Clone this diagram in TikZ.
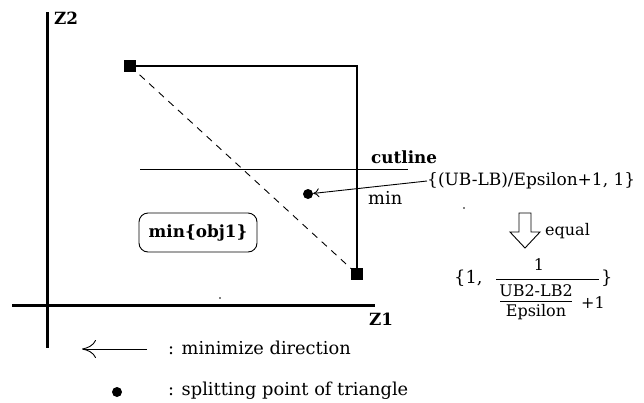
\documentclass[tikz,border=0pt]{standalone}
\usepackage{fontspec}
\setmainfont{DejaVu Serif}
\usetikzlibrary{arrows.meta}
\begin{document}
\begin{tikzpicture}[x=1pt,y=-1pt,
  axis/.style={line width=3pt},
  thinline/.style={line width=1.2pt},
  corner/.style={fill=black,minimum size=12pt,inner sep=0pt},
  txt/.style={inner sep=0pt,font=\fontsize{17.8}{20}\selectfont},
  btxt/.style={inner sep=0pt,font=\bfseries\fontsize{16.8}{19}\selectfont},
  ftxt/.style={inner sep=0pt,font=\fontsize{16}{18}\selectfont},
  splitdot/.style={circle,fill=black,minimum size=10pt,inner sep=0pt}]
\useasboundingbox (0,0) rectangle (644,402);
% axes
\coordinate (ytop) at (47,12);
\coordinate (ybot) at (47,348);
\coordinate (xl) at (12,305);
\coordinate (xr) at (375,305);
\draw[axis] (ytop) -- (ybot);
\draw[axis] (xl) -- (xr);
\node[btxt,anchor=west] (z2) at (54,18) {Z2};
\node[btxt,anchor=west] (z1) at (369,319) {Z1};
% corners
\node[corner] (p1) at (130,66) {};
\node[corner] (p2) at (357,274) {};
\coordinate (pc) at (357,66);
\draw[thinline] (p1.center) -- (pc) -- (p2.center);
\draw[dash pattern=on 7pt off 6pt,line width=0.9pt] (p1.center) -- (p2.center);
% cutline
\coordinate (cl) at (140,169);
\coordinate (cr) at (408,169);
\draw[line width=0.9pt] (cl) -- (cr);
\node[btxt,anchor=west] (cut) at (371,157) {cutline};
% split point
\node[splitdot] (sp) at (308,194) {};
\node[inner sep=0pt,font=\fontsize{17}{20}\selectfont,anchor=west] (ub) at (427,181) {\{(UB-LB)/Epsilon+1, 1\}};
\draw[line width=0.9pt,-{To[length=6pt,width=9pt]}] (ub.west) -- (sp);
\node[txt,anchor=west] (mn) at (368,198) {min};
% min box
\node[btxt,draw,line width=0.9pt,rounded corners=9pt,minimum width=118pt,minimum height=39pt] (mo) at (198,232.5) {min\{obj1\}};
% hollow arrow
\draw[line width=0.9pt] (519,213) -- (531,213) -- (531,232) -- (540,232) -- (525,248) -- (510,232) -- (519,232) -- cycle;
\node[ftxt,anchor=west] (eq) at (545,231) {equal};
% formula
\node[txt,anchor=west] (b1) at (454,278) {\{1,};
\node[ftxt] (one) at (539,265) {1};
\coordinate (fl) at (496,279);
\coordinate (fr) at (599,279);
\draw[line width=0.9pt] (fl) -- (fr);
\node[ftxt] (num) at (536,291) {UB2-LB2};
\coordinate (il) at (500,301);
\coordinate (ir) at (572,301);
\draw[line width=0.9pt] (il) -- (ir);
\node[ftxt] (den) at (536,312) {Epsilon};
\node[ftxt,anchor=west] (p1n) at (581,303) {+1};
\node[txt,anchor=west] (b2) at (601,278) {\}};
% small stray dots
\fill (464,208) circle (0.8pt);
\fill (220,298) circle (0.8pt);
% legend
\coordinate (la) at (147,349);
\coordinate (lb) at (82,349);
\draw[line width=0.9pt,-{To[length=14pt,width=18pt]}] (la) -- (lb);
\node[txt,anchor=west] (lt1) at (168,348) {: minimize direction};
\node[splitdot] (ld) at (117,392) {};
\node[txt,anchor=west] (lt2) at (168,391) {: splitting point of triangle};
\end{tikzpicture}
\end{document}
